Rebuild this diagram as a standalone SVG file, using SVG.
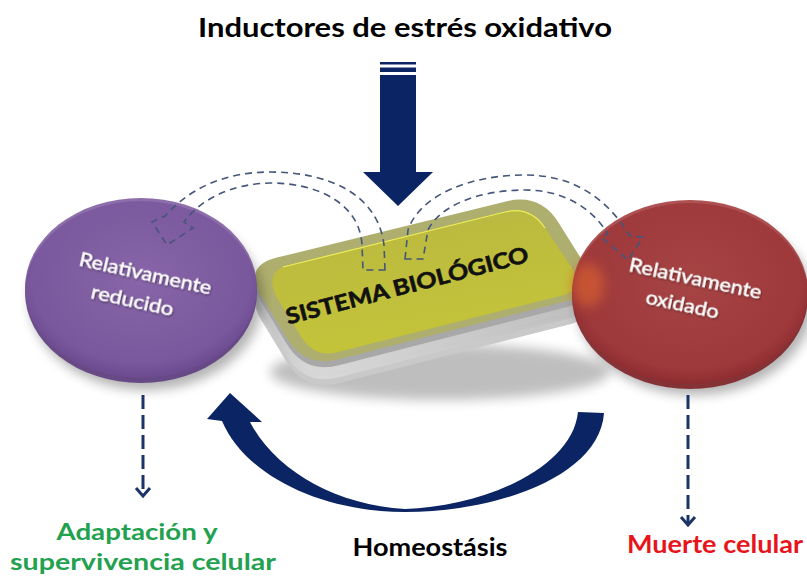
<svg xmlns="http://www.w3.org/2000/svg" width="807" height="579" viewBox="0 0 807 579">
<style>
.t{font-family:Lato,"Open Sans","Liberation Sans",sans-serif;font-weight:700}
.w{font-family:Lato,"Open Sans","Liberation Sans",sans-serif;font-weight:400;fill:#fff;font-size:19px;stroke:#fff;stroke-width:0.35}
.dash{fill:none;stroke:#44567a;stroke-width:1.6;stroke-dasharray:7 5}
.navy{fill:#0b2463}
.dd{fill:none;stroke:#1c3366;stroke-width:3;stroke-dasharray:14 6}
</style>
<defs>
<filter id="blur" x="-30%" y="-30%" width="160%" height="160%"><feGaussianBlur stdDeviation="6"/></filter>
<filter id="ts" x="-10%" y="-30%" width="120%" height="160%"><feDropShadow dx="1" dy="1" stdDeviation="0.8" flood-color="#000" flood-opacity="0.5"/></filter>
<radialGradient id="gp" cx="0.5" cy="0.45" r="0.55"><stop offset="0" stop-color="#8c69ad"/><stop offset="0.85" stop-color="#7d5aa0"/><stop offset="1" stop-color="#6c4a90"/></radialGradient>
<radialGradient id="gr" cx="0.5" cy="0.45" r="0.55"><stop offset="0" stop-color="#ab4646"/><stop offset="0.85" stop-color="#a23a3c"/><stop offset="1" stop-color="#8e2c30"/></radialGradient>
<linearGradient id="rim" x1="0" y1="0" x2="0" y2="1"><stop offset="0" stop-color="#9a9a9a"/><stop offset="1" stop-color="#d8d8d8"/></linearGradient>
<linearGradient id="face" x1="0" y1="0" x2="0.3" y2="1"><stop offset="0" stop-color="#b5b45a"/><stop offset="0.3" stop-color="#bcbb3e"/><stop offset="1" stop-color="#c4c43a"/></linearGradient>
<path id="slab" d="M277,257.6 L506,201.4 Q540,193 558.6,222.7 L583.4,262.3 Q602,292 568.1,300.7 L338.9,359.3 Q305,368 286.8,338.1 L261.2,295.9 Q243,266 277,257.6 Z"/>
</defs>
<rect width="807" height="579" fill="#fff"/>

<text class="t" x="405" y="37" font-size="27" fill="#000" text-anchor="middle" textLength="414" lengthAdjust="spacingAndGlyphs">Inductores de estrés oxidativo</text>

<g id="sistema">
<ellipse cx="440" cy="372" rx="170" ry="28" fill="#000" opacity="0.25" filter="url(#blur)"/>
<use href="#slab" transform="translate(0,24)" fill="#c9c9c9"/>
<use href="#slab" transform="translate(0,18)" fill="url(#rim)"/>
<use href="#slab" transform="translate(0,12)" fill="url(#rim)"/>
<use href="#slab" transform="translate(0,6)" fill="#a8a8a8"/>
<use href="#slab" fill="#aeae6e"/>
<path d="M283,267 L505,212 Q530,206 545,228 L572,268 Q585,290 560,296 L338,352 Q315,358 302,338 L276,296 Q266,274 283,267 Z" fill="url(#face)"/>
<path d="M283,267 L505,212 Q530,206 545,228" fill="none" stroke="#eeee55" stroke-width="1.2"/>
<text class="t" transform="translate(409,293) rotate(-14.6)" font-size="22" fill="#111" stroke="#111" stroke-width="0.6" text-anchor="middle" textLength="250" lengthAdjust="spacingAndGlyphs">SISTEMA BIOLÓGICO</text>
</g>

<g id="reducido">
<ellipse cx="146" cy="300" rx="116" ry="90" fill="#000" opacity="0.3" filter="url(#blur)"/>
<ellipse cx="141" cy="292" rx="116" ry="91" fill="#5e3d80" opacity="0.9"/>
<ellipse cx="141" cy="288" rx="116" ry="90" fill="url(#gp)" opacity="0.88"/>
<text class="w" transform="translate(144,280) rotate(12.5)" text-anchor="middle" textLength="135" lengthAdjust="spacingAndGlyphs" filter="url(#ts)">Relativamente</text>
<text class="w" transform="translate(131,307) rotate(12.5)" text-anchor="middle" textLength="84" lengthAdjust="spacingAndGlyphs" filter="url(#ts)">reducido</text>
</g>

<g id="oxidado">
<ellipse cx="695" cy="303" rx="118" ry="92" fill="#000" opacity="0.3" filter="url(#blur)"/>
<ellipse cx="690" cy="296" rx="118" ry="93" fill="#7e2428" opacity="0.9"/>
<ellipse cx="690" cy="292" rx="118" ry="92" fill="url(#gr)" opacity="0.88"/>
<ellipse cx="588" cy="285" rx="16" ry="22" fill="#e0652e" opacity="0.6" filter="url(#blur)"/>
<text class="w" transform="translate(694,285) rotate(12)" text-anchor="middle" textLength="135" lengthAdjust="spacingAndGlyphs" filter="url(#ts)">Relativamente</text>
<text class="w" transform="translate(681,311) rotate(12)" text-anchor="middle" textLength="74" lengthAdjust="spacingAndGlyphs" filter="url(#ts)">oxidado</text>
</g>

<g id="connectors">
<g id="inductor-arrow" class="navy">
<rect x="380" y="62" width="36" height="2.5"/>
<rect x="380" y="67.5" width="36" height="4.5"/>
<path d="M380,75 H416 V172 H433 L398,206 L363,172 H380 Z"/>
</g>
<path class="dash" d="M385,270 L384,245 C378,195 330,172 270,172 C225,172 190,188 165,216 L152,222 L167,245 L193,228 L184,222 C200,200 230,184 270,183 C320,183 360,205 362,245 L363,270 Z"/>
<path class="dash" d="M405,259 L408,230 C420,195 470,175 525,175 C570,175 605,195 630,236 L643,237 L628,260 L602,238 L608,234 C590,205 560,190 525,190 C480,190 440,205 428,230 L423,259 Z"/>
<path class="navy" d="M604,413 C600,475 500,512 405,512 C320,512 245,475 222,421 L207,419 L230,393 L262,422 L250,422 C275,470 335,505 405,509 C480,507 572,470 578,412 Z"/>
<line class="dd" x1="143" y1="395" x2="143" y2="494"/>
<path d="M136,488 L143,496 L150,488" fill="none" stroke="#1c3366" stroke-width="3"/>
<line class="dd" x1="688" y1="395" x2="688" y2="524"/>
<path d="M681,517 L688,525 L695,517" fill="none" stroke="#1c3366" stroke-width="3"/>
</g>

<text class="t" x="137" y="540" font-size="23" fill="#22a14f" text-anchor="middle" textLength="161" lengthAdjust="spacingAndGlyphs">Adaptación y</text>
<text class="t" x="143" y="570" font-size="23" fill="#22a14f" text-anchor="middle" textLength="266" lengthAdjust="spacingAndGlyphs">supervivencia celular</text>
<text class="t" x="430" y="556" font-size="24" fill="#000" text-anchor="middle" textLength="155" lengthAdjust="spacingAndGlyphs">Homeostásis</text>
<text class="t" x="715" y="553" font-size="24" fill="#e8141b" text-anchor="middle" textLength="176" lengthAdjust="spacingAndGlyphs">Muerte celular</text>
</svg>
